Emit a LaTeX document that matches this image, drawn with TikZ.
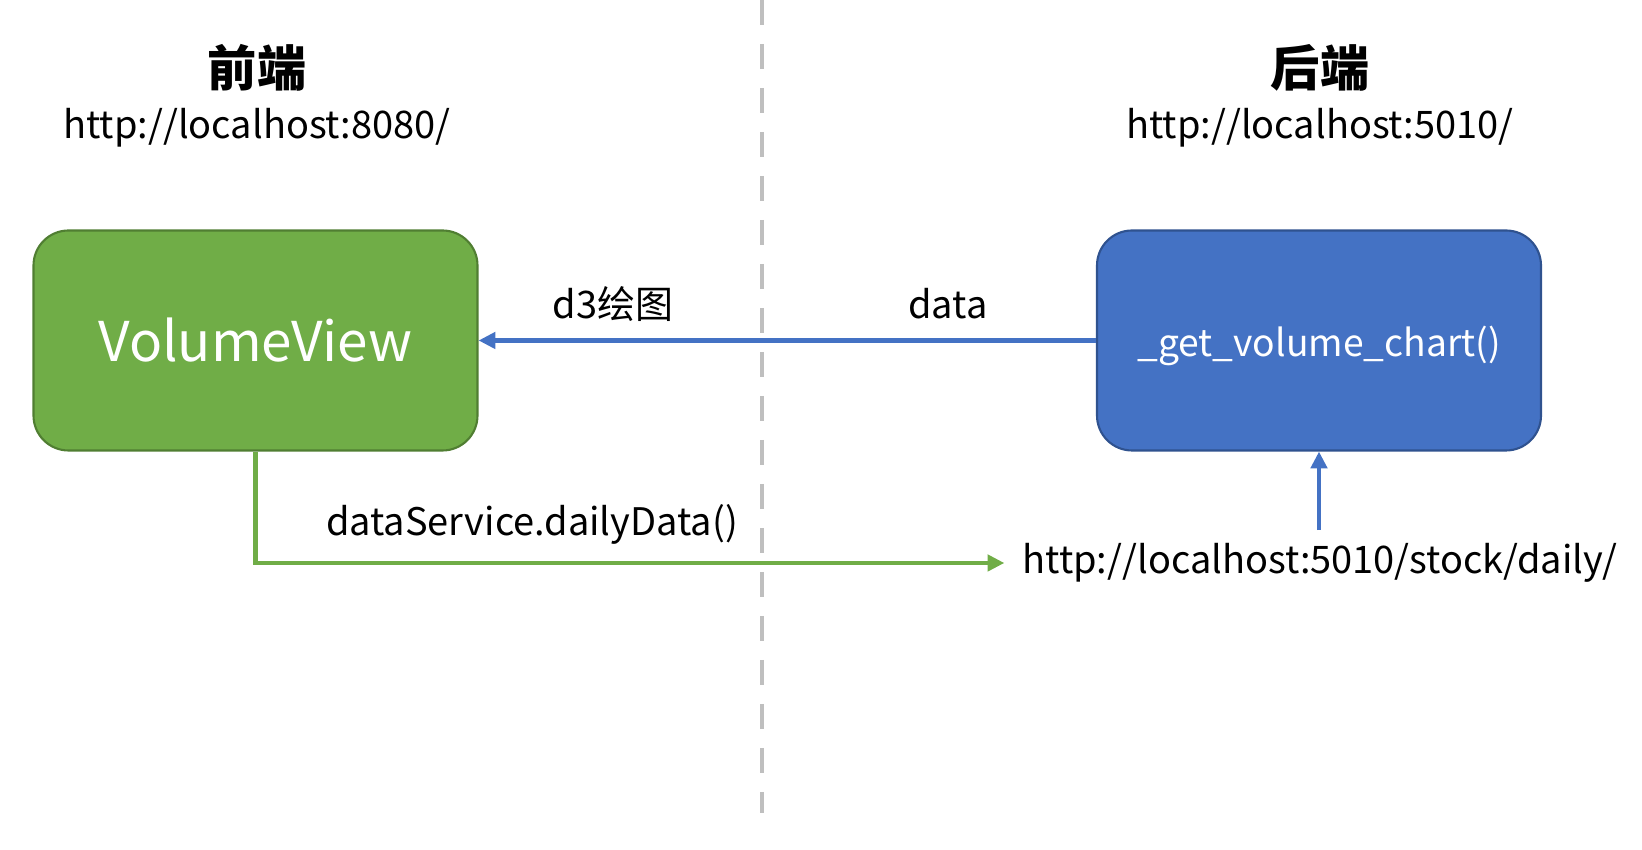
\documentclass[tikz,border=0pt]{standalone}
\usepackage{fontspec}
\setmainfont{Noto Sans CJK SC}
\usetikzlibrary{arrows.meta, positioning}
\definecolor{viewgreen}{HTML}{70AD47}
\definecolor{viewgreenline}{HTML}{507E32}
\definecolor{apiblue}{HTML}{4472C4}
\definecolor{apiblueline}{HTML}{2F528F}
\definecolor{splitgray}{HTML}{BFBFBF}
\tikzset{box/.style = {rounded corners = 0.35cm, minimum width = 4.44cm, minimum height = 2.2cm, line width = 0.6pt, text = white}}
\tikzset{title/.style = {font = \fontsize{14}{16}\selectfont\bfseries}}
\tikzset{url/.style = {font = \fontsize{10.8}{13}\selectfont}}
\tikzset{flow/.style = {line width = 1.3pt, -{Triangle[length = 4.8pt, width = 4.6pt]}}}

\begin{document}
\begin{tikzpicture}
\useasboundingbox (0,0) rectangle (16.42,-8.5);
\draw [line width = 1.4pt, splitgray, dash pattern = on 0.25cm off 0.19cm] (7.62,0) -- (7.62,-8.13);
\node [title] (front) at (2.57,-0.68) {前端};
\node [url] (fronturl) at (2.57,-1.28) {http://localhost:8080/};
\node [title] (back) at (13.2,-0.68) {后端};
\node [url] (backurl) at (13.2,-1.28) {http://localhost:5010/};
\node [box, fill = viewgreen, draw = viewgreenline, font = \fontsize{15.6}{18}\selectfont] (view) at (2.555,-3.405) {VolumeView};
\node [box, fill = apiblue, draw = apiblueline, font = \fontsize{10.6}{12}\selectfont, text height = 11.7pt, text depth = 2.8pt] (chart) at (13.19,-3.405) {\_get\_volume\_chart()};
\node [url, inner sep = 0.1cm] (daily) at (13.2,-5.63) {http://localhost:5010/stock/daily/};
\draw [flow, apiblue] (chart.west) -- (view.east);
\node [url] (draw) at (6.13,-3.04) {d3绘图};
\node [url] (data) at (9.48,-3.04) {data};
\draw [flow, viewgreen, shorten >= 0.075cm] (view.south) |- (daily.west);
\node [url] (service) at (5.32,-5.24) {dataService.dailyData()};
\draw [flow, apiblue, shorten <= 0.025cm] (daily.north -| chart.south) -- (chart.south);
\end{tikzpicture}
\end{document}
